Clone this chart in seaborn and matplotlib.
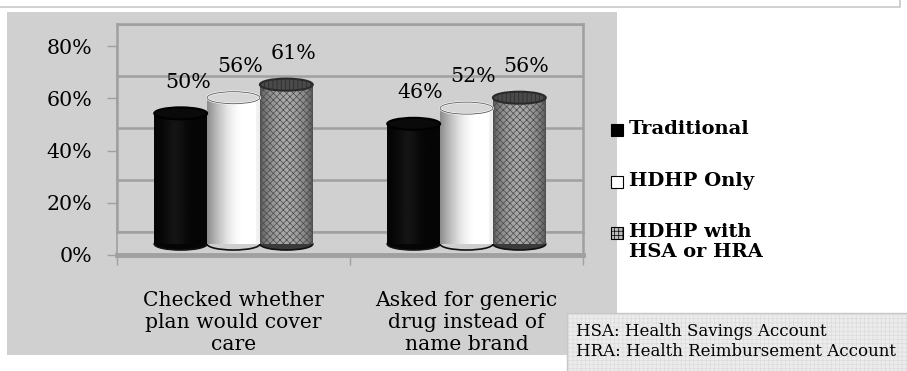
import numpy as np
import pandas as pd
import seaborn as sns
import matplotlib.pyplot as plt
from matplotlib.patches import Rectangle, Ellipse
from matplotlib.lines import Line2D

# ---- data -------------------------------------------------------------
categories = ["Checked whether\nplan would cover\ncare",
              "Asked for generic\ndrug instead of\nname brand"]
plans = ["Traditional", "HDHP Only", "HDHP with\nHSA or HRA"]
traditional = [50, 46]
hdhp_only = [56, 52]
hdhp_hsa_hra = [61, 56]
y_ticks = [0, 20, 40, 60, 80]
y_tick_labels = ["0%", "20%", "40%", "60%", "80%"]
footnotes = ["HSA: Health Savings Account", "HRA: Health Reimbursement Account"]

df = pd.DataFrame({
    "category": categories * 3,
    "plan": np.repeat(plans, len(categories)),
    "value": traditional + hdhp_only + hdhp_hsa_hra,
})

sns.set_theme(style="white")
plt.rcParams["font.family"] = ["DejaVu Serif", "DejaVu Sans"]
plt.rcParams["text.color"] = "black"
plt.rcParams["xtick.color"] = "black"
plt.rcParams["ytick.color"] = "black"
plt.rcParams["hatch.linewidth"] = 0.5

W, H = 907, 371
fig = plt.figure(figsize=(W / 100, H / 100), dpi=100)
fig.patch.set_facecolor("white")


def box(left, top, right, bottom):
    return [left / W, 1 - bottom / H, (right - left) / W, (bottom - top) / H]


def fx(x):
    return x / W


def fy(y):
    return 1 - y / H


GRID = "#a0a0a0"
PANEL = "#d0d0d0"

# outer frame line and grey chart panel
fig.add_artist(Line2D([0, fx(900), fx(900)], [fy(7), fy(7), 1],
                      color="#c8c8c8", lw=1.2, transform=fig.transFigure))
fig.add_artist(Rectangle((fx(7), fy(355)), fx(617) - fx(7), fy(12) - fy(355),
                         transform=fig.transFigure, fc=PANEL, ec="none", zorder=0))

# back wall with gridlines
wall = fig.add_axes(box(117, 24, 583, 232))
wall.set_facecolor("none")
wall.set_xlim(-0.5, 1.5)
wall.set_ylim(0, 80)
wall.set_xticks([])
wall.set_yticks(y_ticks)
wall.set_yticklabels([])
wall.tick_params(left=False)
wall.grid(axis="y", color=GRID, lw=1.8)
for s in wall.spines.values():
    s.set_color(GRID)
    s.set_linewidth(1.8)

# floor: right step
fig.add_artist(Line2D([fx(583), fx(583)], [fy(232), fy(255)], color=GRID, lw=1.8,
                      transform=fig.transFigure))

# front value axis
front = fig.add_axes(box(117, 46, 583, 255))
front.set_facecolor("none")
front.set_xlim(-0.5, 1.5)
front.set_ylim(0, 80)
front.set_yticks(y_ticks)
front.set_yticklabels(y_tick_labels, fontsize=14.8)
front.set_xticks([-0.5, 0.5, 1.5])
front.set_xticklabels([])
front.set_xticks([0, 1], minor=True)
front.set_xticklabels(categories, minor=True, fontsize=14.6, linespacing=1.2)
front.tick_params(axis="y", which="major", length=7, width=1, color=GRID,
                  direction="out", pad=11, left=True, labelcolor="black")
front.tick_params(axis="x", which="major", length=7, width=1, color=GRID,
                  direction="out", bottom=True)
front.tick_params(axis="x", which="minor", length=0, pad=26, labelcolor="black")
for name, s in front.spines.items():
    s.set_visible(name in ("left", "bottom"))
    s.set_color(GRID)
front.spines["left"].set_linewidth(1.2)
front.spines["bottom"].set_linewidth(3.5)

# cylinders
bars = fig.add_axes(box(117, 35, 583, 244))
bars.set_facecolor("none")
sns.barplot(data=df, x="category", y="value", hue="plan", hue_order=plans,
            order=categories, palette=["#000000", "#ffffff", "#777777"],
            width=0.68, saturation=1, legend=False, ax=bars)
bars.set_xlim(-0.5, 1.5)
bars.set_ylim(0, 80)
bars.axis("off")

t = np.linspace(0, 1, 200)
shades = [
    0.02 + 0.06 * np.exp(-((t - 0.4) / 0.2) ** 2),
    np.clip(0.55 + 0.45 * np.sin(np.clip(t / 0.7, 0, 1) * np.pi / 2) - 0.06 * (t > 0.93), 0, 1),
    0.30 + 0.36 * np.sin(t * np.pi) ** 0.6,
]
top_face = ["#0a0a0a", "#d6d6d6", "#4a4a4a"]
top_edge = ["#000000", "#ffffff", "#2a2a2a"]
bottom_face = ["#050505", "#cfcfcf", "#3a3a3a"]
hatches = [None, None, "xxxxx"]
ell_h = 4.6  # cylinder cap height in value units

for k, container in enumerate(bars.containers):
    for bar in container:
        x0, w, h = bar.get_x(), bar.get_width(), bar.get_height()
        cx = x0 + w / 2
        # bottom cap (only lower half shows)
        bars.add_patch(Ellipse((cx, 0), w, ell_h, fc=bottom_face[k], ec="#111111",
                               lw=1.2, zorder=1, clip_on=False))
        img = bars.imshow(shades[k][None, :], extent=[x0, x0 + w, 0, h], cmap="gray",
                          vmin=0, vmax=1, aspect="auto", zorder=2, interpolation="bilinear")
        img.set_clip_path(bar)
        bar.set_facecolor("none")
        bar.set_edgecolor("#4a4a4a" if hatches[k] else "none")
        bar.set_linewidth(0)
        if hatches[k]:
            bar.set_hatch(hatches[k])
        bar.set_zorder(3)
        # top cap
        bars.add_patch(Ellipse((cx, h), w, ell_h, fc=top_face[k], ec=top_edge[k],
                               lw=1.5, zorder=4, clip_on=False,
                               hatch="||||" if hatches[k] else None))
        if k == 1:
            bars.add_patch(Ellipse((cx, h), w, ell_h, fc="none", ec="#555555",
                                   lw=0.6, zorder=5, clip_on=False))
        bars.text(cx + 0.03, h + 12, f"{h:.0f}%", ha="center", va="center",
                  fontsize=14.8, color="black", zorder=6)

# legend
swatch_face = ["#000000", "#ffffff", "#bdbdbd"]
row_y = [130, 182, 233]
for k, label in enumerate(plans):
    fig.add_artist(Rectangle((fx(611), fy(row_y[k] + 6)), fx(12), fy(0) - fy(12),
                             transform=fig.transFigure, fc=swatch_face[k],
                             ec="#000000", lw=0.8, hatch="++++" if k == 2 else None))
    fig.text(fx(629), fy(row_y[k] - 10), label, ha="left", va="top", fontsize=14,
             fontweight="bold", linespacing=1.15, color="black")

# footnote box
fig.add_artist(Rectangle((fx(567), 0), 1 - fx(567), fy(313), transform=fig.transFigure,
                         fc="#ececec", ec="#dcdcdc", lw=0, hatch="++++", zorder=1))
fig.add_artist(Line2D([fx(567), 1], [fy(313), fy(313)], color="#c8c8c8", lw=1,
                      transform=fig.transFigure, zorder=2))
fig.add_artist(Line2D([fx(567), fx(567)], [0, fy(313)], color="#c8c8c8", lw=1,
                      transform=fig.transFigure, zorder=2))
fig.text(fx(576), fy(332), footnotes[0], ha="left", va="center", fontsize=12,
         color="black", zorder=3)
fig.text(fx(576), fy(352), footnotes[1], ha="left", va="center", fontsize=12,
         color="black", zorder=3)

fig.savefig("out.png", dpi=100)
